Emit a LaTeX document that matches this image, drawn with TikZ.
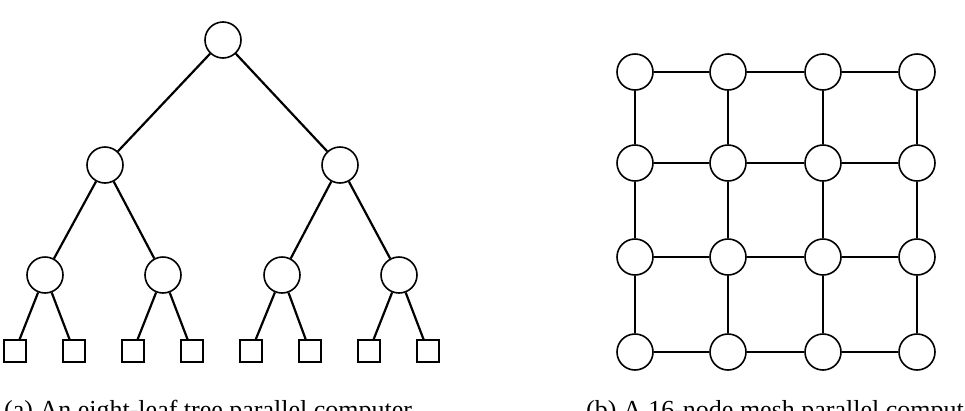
\documentclass[tikz,border=0pt]{standalone}
\usepackage{fontspec}
\setmainfont{Liberation Serif}
\tikzstyle{proc} = [circle, draw, line width=1.6pt, minimum size=36pt, inner sep=0pt]
\tikzstyle{leaf} = [rectangle, draw, line width=1.6pt, minimum size=22pt, inner sep=0pt]
\tikzstyle{link} = [line width=2.2pt]
\begin{document}
\begin{tikzpicture}[x=1pt,y=-1pt]
	\useasboundingbox (0,0) rectangle (965,410);
	\clip (0,0) rectangle (965,410);
	% tree
	\node [proc] (r) at (223,40) {};
	\node [proc] (a) at (105,165) {};
	\node [proc] (b) at (340,165) {};
	\node [proc] (aa) at (45,275) {};
	\node [proc] (ab) at (163,275) {};
	\node [proc] (ba) at (282,275) {};
	\node [proc] (bb) at (399,275) {};
	\foreach \x [count=\i] in {15,74,133,192,251,310,369,428}
		\node [leaf] (l\i) at (\x,351) {};
	\draw [link] (r) -- (a) (r) -- (b);
	\draw [link] (a) -- (aa) (a) -- (ab) (b) -- (ba) (b) -- (bb);
	\draw [link] (aa) -- (l1) (aa) -- (l2) (ab) -- (l3) (ab) -- (l4);
	\draw [link] (ba) -- (l5) (ba) -- (l6) (bb) -- (l7) (bb) -- (l8);
	% mesh
	\foreach \x [count=\i] in {635,728,823,917}
		\foreach \y [count=\j] in {72,163,257,352}
			\node [proc] (m\i\j) at (\x,\y) {};
	\foreach \i in {1,...,4} {
		\draw [link] (m\i1) -- (m\i2) -- (m\i3) -- (m\i4);
		\draw [link] (m1\i) -- (m2\i) -- (m3\i) -- (m4\i);
	}
	% captions
	\node [font=\fontsize{26}{30}\selectfont, anchor=base west, inner sep=0pt] (capa) at (4,418) {(a) An eight-leaf tree parallel computer};
	\node [font=\fontsize{26}{30}\selectfont, anchor=base west, inner sep=0pt] (capb) at (586,418) {(b) A 16-node mesh parallel computer};
\end{tikzpicture}
\end{document}
